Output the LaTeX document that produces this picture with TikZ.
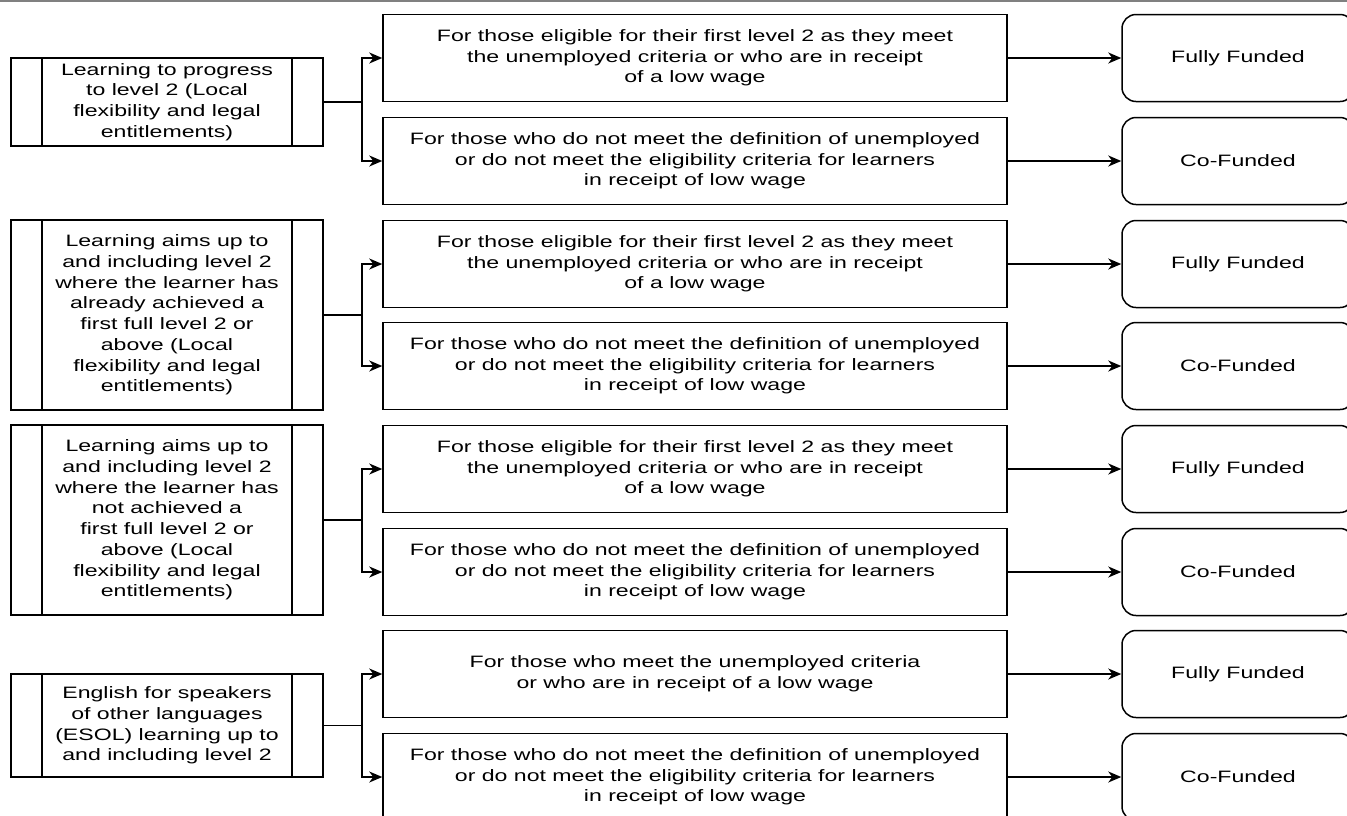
\documentclass[tikz,border=0pt]{standalone}
\usepackage{fontspec}
\setmainfont{Liberation Sans}[FakeStretch=1.4]
\usetikzlibrary{arrows.meta}

\newcommand{\eligtext}{For those eligible for their first level 2 as they meet\\the unemployed criteria or who are in receipt\\of a low wage}
\newcommand{\cotext}{For those who do not meet the definition of unemployed\\or do not meet the eligibility criteria for learners\\in receipt of low wage}
\newcommand{\esoltext}{For those who meet the unemployed criteria\\or who are in receipt of a low wage}

\begin{document}
\begin{tikzpicture}
  [x=1pt, y=-1pt, line width=1.5pt,
   every node/.style={font=\fontsize{16.5}{20.7}\selectfont, align=center, inner sep=2pt},
   aim/.style={draw, minimum width=312pt,
     path picture={\draw ([xshift=31pt]path picture bounding box.north west) -- ([xshift=31pt]path picture bounding box.south west)
                         ([xshift=-31pt]path picture bounding box.north east) -- ([xshift=-31pt]path picture bounding box.south east);}},
   rule/.style={draw, minimum width=624pt, minimum height=87pt},
   fund/.style={draw, rounded corners=14pt, minimum width=232pt, minimum height=87pt},
   link/.style={-{Stealth[length=13pt,width=11pt,inset=4pt]}}]

  \useasboundingbox (0,0) rectangle (1347,815);
  \draw[gray, line width=2pt] (0,1) -- (1347,1);

  %Learning aims
  \node[aim, minimum height=88pt]  (L1) at (167,102)   {Learning to progress\\to level 2 (Local\\flexibility and legal\\entitlements)};
  \node[aim, minimum height=190pt] (L2) at (167,315)   {Learning aims up to\\and including level 2\\where the learner has\\already achieved a\\first full level 2 or\\above (Local\\flexibility and legal\\entitlements)};
  \node[aim, minimum height=190pt] (L3) at (167,520)   {Learning aims up to\\and including level 2\\where the learner has\\not achieved a\\first full level 2 or\\above (Local\\flexibility and legal\\entitlements)};
  \node[aim, minimum height=103pt] (L4) at (167,725.5) {English for speakers\\of other languages\\(ESOL) learning up to\\and including level 2};

  %Eligibility rules and funding
  \foreach \n/\y/\txt/\res in {1/58/\eligtext/Fully Funded, 2/161/\cotext/Co-Funded,
                               3/264/\eligtext/Fully Funded, 4/366/\cotext/Co-Funded,
                               5/469/\eligtext/Fully Funded, 6/572/\cotext/Co-Funded,
                               7/674/\esoltext/Fully Funded, 8/777/\cotext/Co-Funded} {
    \node[rule] (R\n) at (695,\y) {\txt};
    \node[fund] (F\n) at (1238,\y) {\res};
    \draw[link] (R\n.east) -- (F\n.west);
  }

  %Branches
  \foreach \l/\a/\b in {1/1/2, 2/3/4, 3/5/6, 4/7/8} {
    \draw[link] (L\l.east) -- ++(38,0) |- (R\a.west);
    \draw[link] (L\l.east) -- ++(38,0) |- (R\b.west);
  }
\end{tikzpicture}
\end{document}
